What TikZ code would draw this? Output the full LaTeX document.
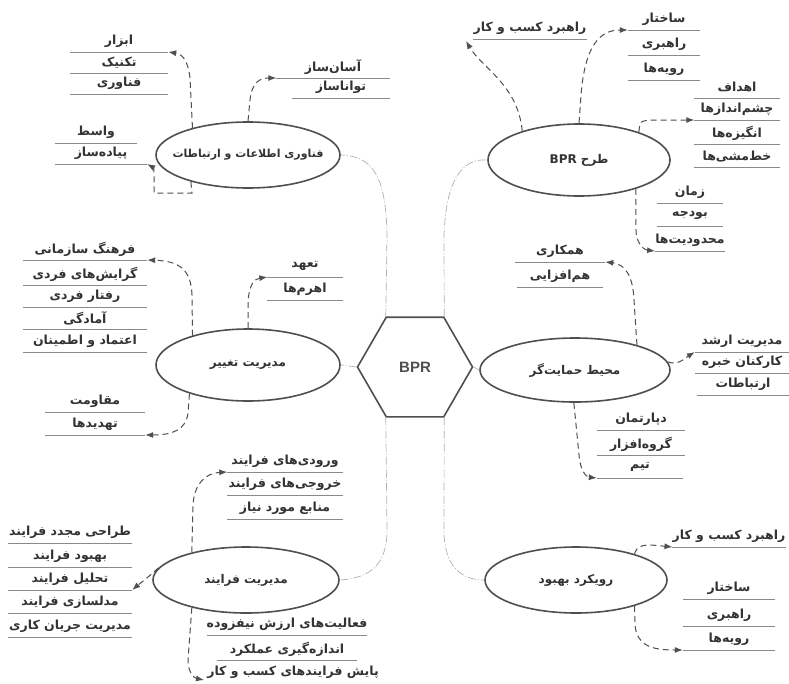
\documentclass[tikz,border=0pt]{standalone}
\usepackage{fontspec}
\setmainfont{Liberation Sans}
\newfontfamily\fafont[Script=Arabic]{DejaVu Sans}
\TeXXeTstate=1
\usetikzlibrary{shapes.geometric,arrows.meta,calc}
\definecolor{ink}{HTML}{333333}
\definecolor{edgec}{HTML}{4F4F4F}
\definecolor{linkc}{HTML}{B0B0B0}
\definecolor{ulc}{HTML}{8A8A8A}
\newcommand\fatx[1]{{\fafont\beginR #1\endR}}
\newcommand\topictx[1]{\makebox[0pt]{\fatx{#1}}}
\tikzset{
  fa/.style={font=\bfseries\fontsize{12.5}{14}\selectfont, text=ink},
  topic/.style={font=\bfseries\fontsize{12}{14}\selectfont, text=ink, ellipse, draw=edgec, line width=1.6pt, inner sep=0pt},
  uline/.style={draw=ulc, line width=0.6pt},
  item/.style={fa, anchor=south, minimum width=#1, minimum height=21pt, inner sep=0pt,
    append after command={(\tikzlastnode.south west) edge[uline] (\tikzlastnode.south east)}},
  lastitem/.style={fa, anchor=south, minimum width=#1, minimum height=21pt, inner sep=0pt},
  arr/.style={draw=edgec, line width=1pt, dash pattern=on 6pt off 4pt, -{Latex[length=8pt,width=6pt]}},
  link/.style={draw=linkc, line width=0.7pt, dash pattern=on 8pt off 2pt on 1pt off 2pt},
  hexa/.style={regular polygon, regular polygon sides=6, minimum size=115pt, draw=edgec,
    line width=1.6pt, inner sep=0pt, font=\bfseries\fontsize{15}{18}\selectfont, text=edgec},
}
\begin{document}
\begin{tikzpicture}[x=1pt,y=-1pt]
\useasboundingbox[fill=white] (0,0) rectangle (789,683);

% centre
\node[hexa] (hex) at (415,367) {BPR};

% topics
\node[topic, minimum width=184pt, minimum height=66pt, font=\bfseries\fontsize{11}{13}\selectfont] (ict) at (248,155) {\topictx{فناوری اطلاعات و ارتباطات}};
\node[topic, minimum width=182pt, minimum height=72pt] (des) at (579,160) {\topictx{طرح \beginL BPR\endL}};
\node[topic, minimum width=184pt, minimum height=72pt] (chg) at (248,365) {\topictx{مدیریت تغییر}};
\node[topic, minimum width=190pt, minimum height=64pt] (sup) at (575,370) {\topictx{محیط حمایت‌گر}};
\node[topic, minimum width=186pt, minimum height=66pt] (prc) at (246,580) {\topictx{مدیریت فرایند}};
\node[topic, minimum width=182pt, minimum height=66pt] (imp) at (576,580) {\topictx{رویکرد بهبود}};

% links from centre
\draw[link] (hex.120) -- (387,235) .. controls (386,175) and (372,156) .. (ict.east);
\draw[link] (hex.60) -- (444,235) .. controls (446,180) and (462,158) .. (des.west);
\draw[link] (hex.180) -- (chg.east);
\draw[link] (hex.0) -- (sup.west);
\draw[link] (hex.240) -- (387,530) .. controls (387,565) and (370,578) .. (prc.east);
\draw[link] (hex.300) -- (444,530) .. controls (444,565) and (460,580) .. (imp.west);

% ICT lists
\node[item=98pt] (l1a) at (119,52) {\fatx{ابزار}};
\node[item=98pt] (l1b) at (119,73) {\fatx{تکنیک}};
\node[item=98pt] (l1c) at (119,94) {\fatx{فناوری}};
\node[item=82pt] (l2a) at (96,143) {\fatx{واسط}};
\node[item=92pt] (l2b) at (101,164) {\fatx{پیاده‌ساز}};
\node[item=113pt] (l3a) at (333,78) {\fatx{آسان‌ساز}};
\node[item=98pt] (l3b) at (341,98) {\fatx{تواناساز}};

% BPR design lists
\node[item=105pt] (l4) at (530,39) {\fatx{راهبرد کسب و کار}};
\node[item=72pt] (l5a) at (664,30) {\fatx{ساختار}};
\node[item=72pt] (l5b) at (664,55) {\fatx{راهبری}};
\node[item=72pt] (l5c) at (664,80) {\fatx{رویه‌ها}};
\node[item=85pt] (l6a) at (737,98) {\fatx{اهداف}};
\node[item=85pt] (l6b) at (737,120) {\fatx{چشم‌اندازها}};
\node[item=85pt] (l6c) at (737,144) {\fatx{انگیزه‌ها}};
\node[item=85pt] (l6d) at (737,167) {\fatx{خط‌مشی‌ها}};
\node[item=66pt] (l7a) at (690,203) {\fatx{زمان}};
\node[item=66pt] (l7b) at (690,226) {\fatx{بودجه}};
\node[item=66pt] (l7c) at (690,251) {\fatx{محدودیت‌ها}};

% change management lists
\node[item=124pt] (l8a) at (85,260) {\fatx{فرهنگ سازمانی}};
\node[item=124pt] (l8b) at (85,285) {\fatx{گرایش‌های فردی}};
\node[item=124pt] (l8c) at (85,307) {\fatx{رفتار فردی}};
\node[item=124pt] (l8d) at (85,329) {\fatx{آمادگی}};
\node[item=124pt] (l8e) at (85,352) {\fatx{اعتماد و اطمینان}};
\node[item=75pt] (l9a) at (305,277) {\fatx{تعهد}};
\node[item=75pt] (l9b) at (305,300) {\fatx{اهرم‌ها}};
\node[item=100pt] (l10a) at (95,412) {\fatx{مقاومت}};
\node[item=100pt] (l10b) at (95,435) {\fatx{تهدیدها}};

% supportive environment lists
\node[item=90pt] (l11a) at (560,262) {\fatx{همکاری}};
\node[item=86pt] (l11b) at (560,287) {\fatx{هم‌افزایی}};
\node[item=94pt] (l12a) at (742,352) {\fatx{مدیریت ارشد}};
\node[item=94pt] (l12b) at (742,373) {\fatx{کارکنان خبره}};
\node[item=92pt] (l12c) at (743,395) {\fatx{ارتباطات}};
\node[item=88pt] (l13a) at (641,430) {\fatx{دپارتمان}};
\node[item=88pt] (l13b) at (641,455) {\fatx{گروه‌افزار}};
\node[item=86pt] (l13c) at (640,478) {\fatx{تیم}};

% process management lists
\node[item=115pt] (l14a) at (285,472) {\fatx{ورودی‌های فرایند}};
\node[item=115pt] (l14b) at (285,495) {\fatx{خروجی‌های فرایند}};
\node[item=115pt] (l14c) at (285,519) {\fatx{منابع مورد نیاز}};
\node[item=124pt] (l15a) at (70,543) {\fatx{طراحی مجدد فرایند}};
\node[item=124pt] (l15b) at (70,567) {\fatx{بهبود فرایند}};
\node[item=124pt] (l15c) at (70,590) {\fatx{تحلیل فرایند}};
\node[item=124pt] (l15d) at (70,613) {\fatx{مدلسازی فرایند}};
\node[item=124pt] (l15e) at (70,637) {\fatx{مدیریت جریان کاری}};
\node[item=140pt] (l16a) at (287,635) {\fatx{فعالیت‌های ارزش نیفزوده}};
\node[item=140pt] (l16b) at (287,660) {\fatx{اندازه‌گیری عملکرد}};
\node[lastitem=140pt] (l16c) at (293,683) {\fatx{پایش فرایندهای کسب و کار}};

% improvement approach lists
\node[item=95pt] (l17) at (729,547) {\fatx{راهبرد کسب و کار}};
\node[item=92pt] (l18a) at (729,599) {\fatx{ساختار}};
\node[item=92pt] (l18b) at (729,626) {\fatx{راهبری}};
\node[item=92pt] (l18c) at (729,650) {\fatx{رویه‌ها}};

% free arrow ends
\coordinate (a4) at (466,41);
\coordinate (a16) at (204,680);

% dashed arrows
\draw[arr] (ict.154) -- (190,78) .. controls (188,60) and (182,54) .. (l1a.south east);
\draw[arr] (ict.205) -- (192,193) -- (154,193) -- (154,176) .. controls (154,168) .. (l2b.south east);
\draw[arr] (ict.90) -- (250,100) .. controls (252,82) and (260,78) .. (l3a.south west);

\draw[arr] (des.153) .. controls (518,85) and (482,68) .. (a4);
\draw[arr] (des.90) -- (581,95) .. controls (585,45) and (600,30) .. (l5a.south west);
\draw[arr] (des.25) .. controls (640,121) .. (652,120) -- (l6b.south west);
\draw[arr] (des.333) -- (636,232) .. controls (637,245) and (645,250) .. (l7c.south west);

\draw[arr] (chg.152) -- (192,295) .. controls (191,270) and (180,261) .. (l8a.south east);
\draw[arr] (chg.90) -- (248,302) .. controls (249,285) and (254,279) .. (l9a.south west);
\draw[arr] (chg.206) -- (188,413) .. controls (186,430) and (172,435) .. (l10b.south east);

\draw[arr] (sup.22) -- (634,300) .. controls (633,276) and (625,264) .. (l11a.south east);
\draw[arr] (sup.5) .. controls (678,366) and (685,358) .. (l12a.south west);
\draw[arr] (sup.268) -- (579,455) .. controls (580,470) and (586,477) .. (l13c.south west);

\draw[arr] (prc.153) -- (193,505) .. controls (194,485) and (205,473) .. (l14a.south west);
\draw[arr] (prc.172) .. controls (145,580) and (138,585) .. (l15c.south east);
\draw[arr] (prc.207) -- (188,660) .. controls (188,672) and (194,678) .. (a16);

\draw[arr] (imp.24) .. controls (637,546) and (642,545) .. (652,545) -- (l17.south west);
\draw[arr] (imp.336) -- (635,625) .. controls (637,645) and (650,650) .. (l18c.south west);
\end{tikzpicture}
\end{document}
